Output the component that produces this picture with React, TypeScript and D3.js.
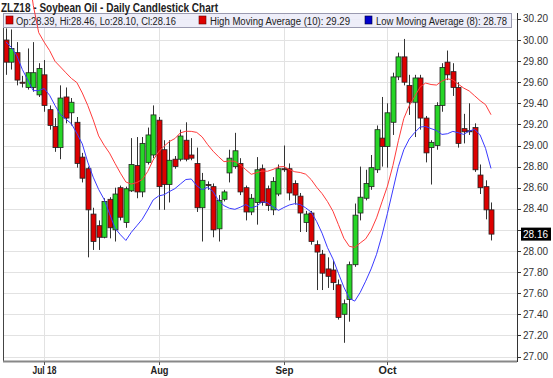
import React from 'react';
import * as d3 from 'd3';

const dates = [
  '2018-06-21','2018-06-22','2018-06-25','2018-06-26','2018-06-27','2018-06-28','2018-06-29',
  '2018-07-02','2018-07-03','2018-07-05','2018-07-06','2018-07-09','2018-07-10','2018-07-11','2018-07-12','2018-07-13',
  '2018-07-16','2018-07-17','2018-07-18','2018-07-19','2018-07-20','2018-07-23','2018-07-24','2018-07-25','2018-07-26','2018-07-27',
  '2018-07-30','2018-07-31',
  '2018-08-01','2018-08-02','2018-08-03','2018-08-06','2018-08-07','2018-08-08','2018-08-09','2018-08-10',
  '2018-08-13','2018-08-14','2018-08-15','2018-08-16','2018-08-17','2018-08-20','2018-08-21','2018-08-22','2018-08-23','2018-08-24',
  '2018-08-27','2018-08-28','2018-08-29','2018-08-30','2018-08-31',
  '2018-09-04','2018-09-05','2018-09-06','2018-09-07','2018-09-10','2018-09-11','2018-09-12','2018-09-13','2018-09-14',
  '2018-09-17','2018-09-18','2018-09-19','2018-09-20','2018-09-21','2018-09-24','2018-09-25','2018-09-26','2018-09-27','2018-09-28',
  '2018-10-01','2018-10-02','2018-10-03','2018-10-04','2018-10-05','2018-10-08','2018-10-09','2018-10-10','2018-10-11','2018-10-12',
  '2018-10-15','2018-10-16','2018-10-17','2018-10-18','2018-10-19','2018-10-22','2018-10-23','2018-10-24','2018-10-25','2018-10-26',
];

const opens = [
  30.00, 29.79, 29.88, 29.60, 29.55, 29.55, 29.48, 29.67, 29.34, 29.18,
  28.98, 29.46, 29.31, 29.22, 28.89, 28.78, 28.35, 28.24, 28.13, 28.49,
  28.20, 28.60, 28.27, 28.57, 28.81, 28.56, 28.84, 28.91, 29.24, 28.96,
  28.63, 28.87, 28.87, 29.05, 28.91, 28.83, 28.41, 28.63, 28.61, 28.21,
  28.49, 28.74, 28.80, 28.83, 28.60, 28.37, 28.46, 28.78, 28.59, 28.39,
  28.54, 28.78, 28.78, 28.64, 28.52, 28.27, 28.36, 28.06, 27.97, 27.83,
  27.82, 27.68, 27.40, 27.54, 27.87, 28.36, 28.50, 28.61, 28.77, 29.07,
  28.99, 29.22, 29.65, 29.84, 29.57, 29.41, 29.64, 29.26, 28.98, 29.00,
  29.38, 29.79, 29.70, 29.55, 29.16, 29.14, 29.17, 28.72, 28.61, 28.39,
];
const highs = [
  30.11, 30.10, 29.98, 29.66, 29.92, 29.98, 29.78, 29.81, 29.38, 29.26,
  29.57, 29.55, 29.45, 29.27, 28.93, 28.80, 28.41, 28.29, 28.50, 28.51,
  28.60, 28.62, 28.61, 29.07, 29.08, 29.08, 29.17, 29.38, 29.27, 29.05,
  29.05, 28.90, 29.15, 29.22, 29.07, 28.98, 28.74, 28.66, 28.64, 28.53,
  28.58, 28.96, 29.12, 28.88, 28.62, 28.54, 28.89, 28.82, 28.62, 28.70,
  28.82, 29.00, 28.83, 28.67, 28.55, 28.38, 28.38, 28.10, 28.01, 27.94,
  27.91, 27.73, 27.54, 27.90, 28.45, 28.80, 28.77, 28.91, 29.19, 29.46,
  29.40, 29.69, 29.88, 30.01, 29.67, 29.67, 29.67, 29.28, 29.05, 29.41,
  29.78, 29.90, 29.78, 29.60, 29.30, 29.40, 29.21, 28.82, 28.67, 28.46,
];
const lows = [
  29.67, 29.72, 29.57, 29.55, 29.53, 29.51, 29.46, 29.32, 29.15, 28.94,
  28.87, 29.21, 29.19, 28.79, 28.65, 27.94, 28.01, 28.01, 28.12, 28.12,
  28.09, 28.29, 28.22, 28.56, 28.50, 28.51, 28.82, 28.88, 28.39, 28.39,
  28.46, 28.78, 28.85, 28.85, 28.86, 28.37, 28.09, 28.58, 28.13, 28.09,
  28.47, 28.65, 28.78, 28.53, 28.29, 28.34, 28.25, 28.43, 28.38, 28.34,
  28.52, 28.75, 28.48, 28.44, 28.18, 28.18, 28.06, 27.63, 27.63, 27.65,
  27.63, 27.35, 27.13, 27.33, 27.85, 28.29, 28.48, 28.58, 28.74, 28.80,
  28.79, 29.10, 29.62, 29.57, 29.29, 29.08, 29.15, 28.84, 28.63, 28.96,
  29.32, 29.62, 29.47, 28.98, 29.02, 29.10, 28.75, 28.54, 28.30, 28.10,
];
const closes = [
  29.79, 29.92, 29.62, 29.59, 29.69, 29.69, 29.73, 29.38, 29.19, 28.98,
  29.45, 29.26, 29.41, 28.83, 28.69, 28.39, 28.09, 28.13, 28.47, 28.22,
  28.54, 28.32, 28.59, 28.82, 28.56, 29.02, 29.10, 29.29, 28.61, 28.63,
  28.86, 28.80, 29.09, 28.87, 28.88, 28.41, 28.67, 28.62, 28.20, 28.48,
  28.56, 28.88, 28.95, 28.56, 28.37, 28.50, 28.77, 28.46, 28.43, 28.66,
  28.78, 28.77, 28.55, 28.53, 28.36, 28.35, 28.09, 27.99, 27.79, 27.76,
  27.70, 27.37, 27.50, 27.87, 28.34, 28.51, 28.64, 28.79, 29.15, 28.99,
  29.31, 29.65, 29.84, 29.60, 29.41, 29.64, 29.26, 28.93, 29.03, 29.38,
  29.74, 29.67, 29.55, 29.02, 29.13, 29.13, 28.77, 28.60, 28.39, 28.16,
];

// moving-average values for the first days (window not yet full)
const highMAStart = [31.2, 31.1, 31.0, 30.9, 30.7, 30.33, 30.07, 29.98, 29.9];
const lowMAStart = [29.98, 29.93, 29.85, 29.72, 29.62, 29.52, 29.52];

const yTicks = [27.0, 27.2, 27.4, 27.6, 27.8, 28.0, 28.2, 28.4, 28.6, 28.8, 29.0, 29.2, 29.4, 29.6, 29.8, 30.0, 30.2];
const xTickDates = ['2018-07-02', '2018-08-01', '2018-09-04', '2018-10-01'];
const xTickLabels = ['Jul 18', 'Aug', 'Sep', 'Oct'];

const FONT = "'Liberation Sans', Arial, sans-serif";

export default function App() {
  const W = 553, H = 378;
  const L = 4, R = 517, T = 13, B = 361;
  const n = dates.length;
  const x = d3.scaleLinear().domain([0, n - 1]).range([6, 491]);
  const y = d3.scaleLinear().domain([27, 30]).range([356.5, 40]);

  const highMA = highs.map((_, i) => (i < 9 ? highMAStart[i] : (d3.mean(highs.slice(i - 9, i + 1)) as number)));
  const lowMA = lows.map((_, i) => (i < 7 ? lowMAStart[i] : (d3.mean(lows.slice(i - 7, i + 1)) as number)));
  const line = d3.line<number>().x((_, i) => x(i)).y((v) => y(v));

  const last = n - 1;
  const green = '#27d627';
  const red = '#dd0000';
  const lastY = y(closes[last]);

  return (
    <svg width={W} height={H} style={{ position: 'absolute', left: 0, top: 0, background: '#fff' }} fontFamily={FONT}>
      <rect x={0} y={0} width={W} height={H} fill="#fff" />
      {/* grid */}
      {yTicks.map((t) => (
        <line key={'g' + t} x1={L} x2={R} y1={Math.round(y(t)) + 0.5} y2={Math.round(y(t)) + 0.5} stroke="#e2e2e2" strokeWidth={1} />
      ))}
      {xTickDates.map((d) => {
        const xi = Math.round(x(dates.indexOf(d))) + 0.5;
        return <line key={'v' + d} x1={xi} x2={xi} y1={T} y2={B} stroke="#e2e2e2" strokeWidth={1} />;
      })}
      {/* candles */}
      {dates.map((d, i) => {
        const o = opens[i], c = closes[i], h = highs[i], l = lows[i];
        const cx = Math.round(x(i)) + 0.5;
        const top = y(Math.max(o, c));
        const bot = y(Math.min(o, c));
        const up = c >= o;
        return (
          <g key={d}>
            <line x1={cx} x2={cx} y1={y(h)} y2={y(l)} stroke="#333" strokeWidth={1} />
            <rect x={cx - 2.5} y={top} width={5} height={Math.max(1, bot - top)} fill={up ? green : red} stroke="#222" strokeWidth={0.8} />
          </g>
        );
      })}
      {/* frame */}
      <line x1={L - 0.5} x2={L - 0.5} y1={T} y2={B} stroke="#444" strokeWidth={1} />
      <line x1={L - 1} x2={R} y1={B + 0.5} y2={B + 0.5} stroke="#888" strokeWidth={2} />
      <line x1={R + 0.5} x2={R + 0.5} y1={T} y2={B + 1} stroke="#333" strokeWidth={1} />
      {/* y axis */}
      {yTicks.map((t) => (
        <g key={'yt' + t}>
          <line x1={R} x2={R + 4} y1={Math.round(y(t)) + 0.5} y2={Math.round(y(t)) + 0.5} stroke="#333" />
          {Math.abs(y(t) - lastY) > 10 && (
            <text x={523} y={y(t)} dy="0.35em" fontSize={10} fill="#333" textLength={25} lengthAdjust="spacingAndGlyphs">
              {t.toFixed(2)}
            </text>
          )}
        </g>
      ))}
      <rect x={521} y={lastY - 6.5} width={30} height={13} fill="#000" />
      <text x={523} y={lastY} dy="0.35em" fontSize={10} fill="#fff" textLength={25} lengthAdjust="spacingAndGlyphs">
        {closes[last].toFixed(2)}
      </text>
      {/* x axis */}
      {xTickDates.map((d, k) => {
        const xi = Math.round(x(dates.indexOf(d))) + 0.5;
        const lbl = xTickLabels[k];
        return (
          <g key={'xt' + d}>
            <line x1={xi} x2={xi} y1={B + 1} y2={B + 4} stroke="#555" />
            <text x={xi} y={374} textAnchor="middle" fontSize={10.5} fontWeight="bold" fill="#222"
              textLength={lbl.length > 3 ? 24 : 18} lengthAdjust="spacingAndGlyphs">
              {lbl}
            </text>
          </g>
        );
      })}
      {/* legend */}
      <rect x={3.5} y={13.5} width={508} height={14} fill="#ececf8" fillOpacity={0.9} stroke="#9a9ab0" strokeWidth={1} />
      <rect x={6} y={16} width={7} height={8} fill={red} stroke="#600" strokeWidth={0.6} />
      <text x={16} y={24.5} fontSize={10} fill="#222" textLength={160} lengthAdjust="spacingAndGlyphs">
        {`Op:${opens[last].toFixed(2)}, Hi:${highs[last].toFixed(2)}, Lo:${lows[last].toFixed(2)}, Cl:${closes[last].toFixed(2)}`}
      </text>
      <rect x={199} y={16} width={7} height={8} fill={red} stroke="#600" strokeWidth={0.6} />
      <text x={210} y={24.5} fontSize={10} fill="#222" textLength={140} lengthAdjust="spacingAndGlyphs">
        {`High Moving Average (10): ${highMA[last].toFixed(2)}`}
      </text>
      <rect x={365} y={16} width={7} height={8} fill="#0000cc" stroke="#003" strokeWidth={0.6} />
      <text x={376} y={24.5} fontSize={10} fill="#222" textLength={131} lengthAdjust="spacingAndGlyphs">
        {`Low Moving Average (8): ${lowMA[last].toFixed(2)}`}
      </text>
      {/* title */}
      <text x={1} y={11.5} fontSize={12.5} fontWeight="bold" fill="#222" textLength={217} lengthAdjust="spacingAndGlyphs">
        ZLZ18 - Soybean Oil - Daily Candlestick Chart
      </text>
      {/* moving averages (drawn on top, as in the reference) */}
      <path d={line(highMA) || ''} fill="none" stroke="#ff3b3b" strokeWidth={1} />
      <path d={line(lowMA) || ''} fill="none" stroke="#3a3aff" strokeWidth={1} />
    </svg>
  );
}
